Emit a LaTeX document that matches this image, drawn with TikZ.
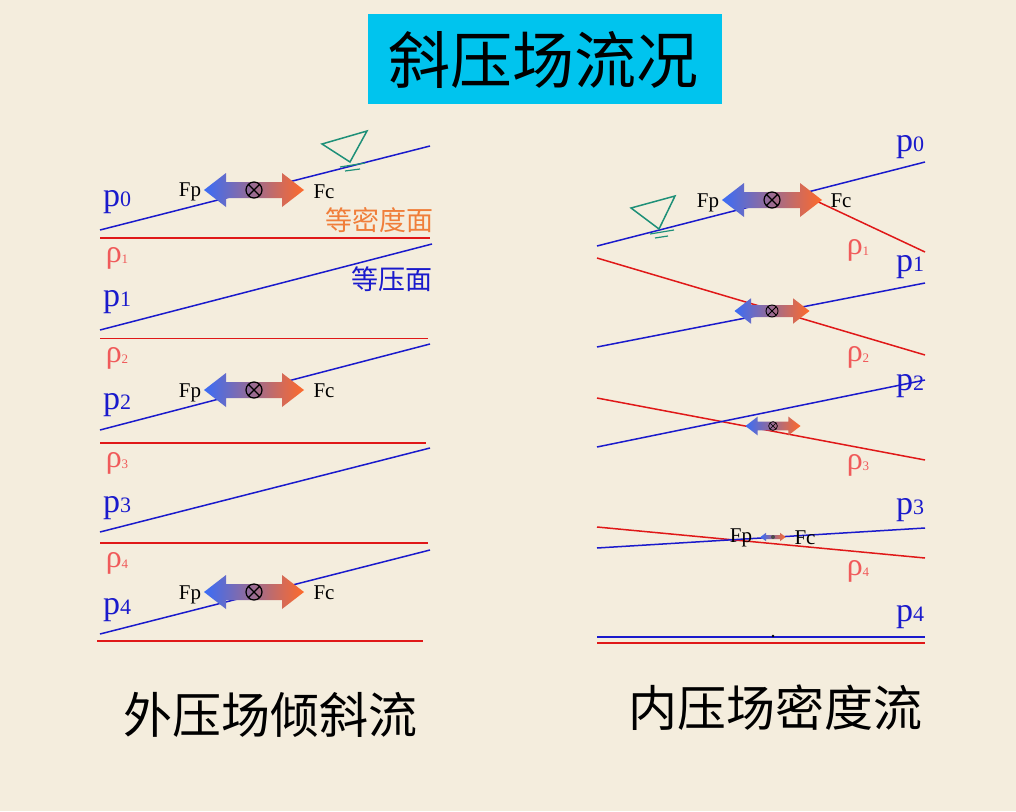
\documentclass[tikz,border=0pt]{standalone}
\usepackage{fontspec}
\setmainfont{Liberation Serif}
\newfontfamily\cjk{Noto Sans CJK SC}
\definecolor{bg}{HTML}{F4EDDD}
\definecolor{tb}{HTML}{00C4EE}
\definecolor{pb}{HTML}{1A1ACC}
\definecolor{rr}{HTML}{E01818}
\definecolor{rl}{HTML}{F05A5A}
\definecolor{ab}{HTML}{3A6CF6}
\definecolor{am}{HTML}{9A5AC0}
\definecolor{ao}{HTML}{FF6A2A}
\definecolor{tg}{HTML}{1E9078}
\definecolor{og}{HTML}{F07E3A}
\tikzset{
 bl/.style={pb,line width=1.5pt},
 rd/.style={rr,line width=1.5pt},
 plab/.style={pb,font=\fontsize{34}{34}\selectfont,inner sep=0pt},
 rlab/.style={rl,font=\fontsize{32}{32}\selectfont,inner sep=0pt},
 flab/.style={black,font=\fontsize{21}{21}\selectfont,inner sep=0pt},
 big/.style={font=\cjk\fontsize{49}{49}\selectfont,inner sep=0pt},
}
\newcommand{\dbl}[3]{% x y scale
\begin{scope}[shift={(#1,#2)},scale=#3]
\shade[left color=ab,middle color=am,right color=ao] (-50,0)--(-28,-17)--(-28,-8)--(28,-8)--(28,-17)--(50,0)--(28,17)--(28,8)--(-28,8)--(-28,17)--cycle;
\draw[black,line width=1.2pt*#3] (0,0) circle (8) (-5.6,-5.6)--(5.6,5.6) (-5.6,5.6)--(5.6,-5.6);
\end{scope}}
\newcommand{\rh}[1]{ρ\raisebox{-1pt}{\fontsize{13}{13}\selectfont #1}}
\newcommand{\pp}[1]{p\fontsize{22}{22}\selectfont #1}
\begin{document}
\begin{tikzpicture}[x=1pt,y=-1pt]
\fill[bg] (0,0) rectangle (1016,811);
\useasboundingbox (0,0) rectangle (1016,811);
\fill[tb] (368,14) rectangle (722,104);
\node[inner sep=0pt,font=\cjk\fontsize{62}{62}\selectfont] (title) at (543,60) {斜压场流况};
% left panel
\draw[bl] (100,230)--(430,146);
\draw[rd] (100,238)--(430,238);
\draw[bl] (100,330)--(432,244);
\draw[rr,line width=1pt] (100,338)--(428,338);
\draw[bl] (100,430)--(430,344);
\draw[rd] (100,443)--(426,443);
\draw[bl] (100,532)--(430,448);
\draw[rd] (100,543)--(428,543);
\draw[bl] (100,634)--(430,550);
\draw[rd] (97,641)--(423,641);
\node[plab] (lp0) at (117,202) {\pp{0}};
\node[rlab] (lr1) at (117,258) {\rh{1}};
\node[plab] (lp1) at (117,302) {\pp{1}};
\node[rlab] (lr2) at (117,358) {\rh{2}};
\node[plab] (lp2) at (117,405) {\pp{2}};
\node[rlab] (lr3) at (117,463) {\rh{3}};
\node[plab] (lp3) at (117,508) {\pp{3}};
\node[rlab] (lr4) at (117,563) {\rh{4}};
\node[plab] (lp4) at (117,610) {\pp{4}};
\dbl{254}{190}{1}
\dbl{254}{390}{1}
\dbl{254}{592}{1}
\node[flab] (f1) at (190,192) {Fp};
\node[flab] (c1) at (324,192) {Fc};
\node[flab] (f2) at (190,393) {Fp};
\node[flab] (c2) at (324,391) {Fc};
\node[flab] (f3) at (190,595) {Fp};
\node[flab] (c3) at (324,593) {Fc};
\draw[tg,line width=1.5pt] (322,144)--(367,131)--(350,162)--cycle;
\draw[tg,line width=1.2pt] (340,167)--(365,163) (345,171)--(360,169);
\node[og,font=\cjk\fontsize{27}{27}\selectfont,inner sep=0pt] (eqd) at (379,220) {等密度面};
\node[pb,font=\cjk\fontsize{27}{27}\selectfont,inner sep=0pt] (eqp) at (392,279) {等压面};
\node[big] (lt) at (270,715) {外压场倾斜流};
% right panel
\draw[bl] (597,246)--(925,162);
\draw[rd] (810,198)--(925,252);
\draw[rd] (597,258)--(925,355);
\draw[bl] (597,347)--(925,283);
\draw[rd] (597,398)--(925,460);
\draw[bl] (597,447)--(925,380);
\draw[rd] (597,527)--(925,558);
\draw[bl] (597,548)--(925,528);
\draw[pb,line width=1.2pt] (597,637)--(925,637);
\draw[rr,line width=1.2pt] (597,643)--(925,643);
\fill[black] (773,636) circle (1.3);
\dbl{772}{200}{1}
\dbl{772}{311}{0.75}
\dbl{773}{426}{0.55}
\begin{scope}[shift={(773,537)},scale=0.25]
\shade[left color=ab,right color=ao] (-50,0)--(-28,-17)--(-28,-8)--(28,-8)--(28,-17)--(50,0)--(28,17)--(28,8)--(-28,8)--(-28,17)--cycle;
\fill[black!70] (0,0) circle (8);
\end{scope}
\node[flab] (f4) at (708,203) {Fp};
\node[flab] (c4) at (841,201) {Fc};
\node[flab] (f5) at (741,538) {Fp};
\node[flab] (c5) at (805,538) {Fc};
\draw[tg,line width=1.5pt] (631,208)--(675,196)--(659,229)--cycle;
\draw[tg,line width=1.2pt] (650,234)--(674,230) (655,238)--(668,236);
\node[plab] (rp0) at (910,147) {\pp{0}};
\node[rlab] (rr1) at (858,250) {\rh{1}};
\node[plab] (rp1) at (910,267) {\pp{1}};
\node[rlab] (rr2) at (858,357) {\rh{2}};
\node[plab] (rp2) at (910,386) {\pp{2}};
\node[rlab] (rr3) at (858,465) {\rh{3}};
\node[plab] (rp3) at (910,510) {\pp{3}};
\node[rlab] (rr4) at (858,571) {\rh{4}};
\node[plab] (rp4) at (910,617) {\pp{4}};
\node[big] (rt) at (775,708) {内压场密度流};
\end{tikzpicture}
\end{document}
